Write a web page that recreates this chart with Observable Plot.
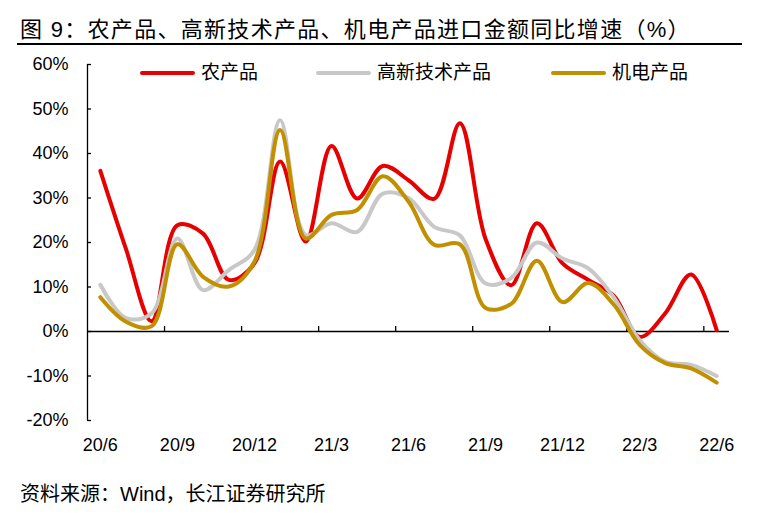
<!DOCTYPE html>
<html><head><meta charset="utf-8">
<script src="https://cdn.jsdelivr.net/npm/d3@7"></script>
<script src="https://cdn.jsdelivr.net/npm/@observablehq/plot@0.6"></script>
<style>
body{margin:0;background:#fff;width:763px;height:522px;position:relative;overflow:hidden;font-family:"Liberation Sans",Arial,"Noto Sans CJK SC",sans-serif;color:#000}
#title{position:absolute;left:20px;top:17px;font-size:22px;line-height:26px;letter-spacing:1.3px;white-space:nowrap;font-family:"Liberation Sans",Arial,"Noto Sans CJK SC",sans-serif}
#rule{position:absolute;left:17px;top:42.5px;width:725px;height:2px;background:#000}
#chart{position:absolute;left:0;top:50px}
#legend{position:absolute;left:0;top:0;width:763px;height:100px}
.sw{position:absolute;height:4px;top:70.5px;width:55px;border-radius:2px}
.lt{position:absolute;top:61px;font-size:19px;line-height:23px;white-space:nowrap}
#caption{position:absolute;left:20px;top:482px;font-size:20px;line-height:24px;white-space:nowrap}
</style></head>
<body>
<div id="title">图 9：农产品、高新技术产品、机电产品进口金额同比增速（%）</div>
<div id="rule"></div>
<div id="chart"></div>
<div id="legend"></div>
<div id="caption">资料来源：Wind，长江证券研究所</div>
<script>
const months = ["20/6","20/7","20/8","20/9","20/10","20/11","20/12","21/1","21/2","21/3","21/4","21/5","21/6","21/7","21/8","21/9","21/10","21/11","21/12","22/1","22/2","22/3","22/4","22/5","22/6"];
const seriesNames = ["农产品","高新技术产品","机电产品"];
const seriesColors = ["#E60000","#C8C8C8","#C09000"];
const agri = [36.1,18.5,2.3,23.9,22.0,11.6,15.3,38.2,20.2,41.7,29.9,37.2,34.0,29.8,46.8,20.8,10.4,24.3,15.3,11.6,8.0,-1.2,4.1,12.8,0.3];
const hightech = [10.5,3.0,4.1,20.9,9.3,13.8,18.3,47.5,21.7,24.3,22.4,31.0,30.0,23.5,21.6,10.8,12.0,20.0,16.4,14.2,7.6,-1.9,-6.8,-7.5,-10.0];
const mech = [7.7,2.2,1.2,19.6,12.3,10.1,15.7,45.3,20.9,26.2,27.3,34.9,29.2,19.5,19.6,5.3,6.2,15.9,6.6,10.9,6.0,-3.0,-7.1,-8.3,-11.5];
const yTicks = [-20,-10,0,10,20,30,40,50,60];
const labelEvery = 3;

const seriesValues = [agri, hightech, mech];
const xDomain = [-0.5, months.length - 0.5];
const labelIdx = months.map((m,i)=>i).filter(i => i % labelEvery === 0);
const xTickPos = labelIdx.slice(1).map(i => i - 0.5);

const lineMarks = seriesValues.map((vals, s) =>
  Plot.line(vals.map((v,i)=>({i, v})), {x:"i", y:"v", stroke: seriesColors[s], strokeWidth:4, curve:"catmull-rom", strokeLinecap:"round", strokeLinejoin:"round"})
);

const chart = Plot.plot({
  width: 763, height: 420,
  marginLeft: 87, marginRight: 34, marginTop: 14, marginBottom: 50,
  style: {fontFamily: "'Liberation Sans', Arial, 'Noto Sans CJK SC', sans-serif", fontSize: "18px", color: "#000", background: "transparent", overflow: "visible"},
  x: {domain: xDomain, axis: null},
  y: {domain: [yTicks[0], yTicks[yTicks.length-1]], axis: null},
  marks: [
    Plot.ruleX([xDomain[0]], {stroke:"#000", strokeWidth:1.3}),
    Plot.ruleY(yTicks, {x1: xDomain[0], x2: xDomain[0], insetRight: -4, stroke:"#000", strokeWidth:1.3}),
    Plot.ruleY([0], {stroke:"#000", strokeWidth:1.3}),
    Plot.ruleX(xTickPos, {y1: 0, y2: 0, insetTop: -5, stroke:"#000", strokeWidth:1.3}),
    ...lineMarks,
    Plot.axisY({ticks: yTicks, tickSize: 0, tickPadding: 19, tickFormat: d => d + "%", fontSize: 18, label: null}),
    Plot.axisX({ticks: labelIdx, tickSize: 0, tickPadding: 18, tickFormat: i => months[i], fontSize: 18, label: null})
  ]
});
document.getElementById("chart").appendChild(chart);

const legendSwatchLeft = [140, 316, 551];
const leg = document.getElementById("legend");
seriesNames.forEach((name, s) => {
  const sw = document.createElement("div");
  sw.className = "sw"; sw.style.left = legendSwatchLeft[s] + "px"; sw.style.background = seriesColors[s];
  leg.appendChild(sw);
  const t = document.createElement("div");
  t.className = "lt"; t.style.left = (legendSwatchLeft[s] + 61) + "px"; t.textContent = name;
  leg.appendChild(t);
});
</script>
</body></html>
